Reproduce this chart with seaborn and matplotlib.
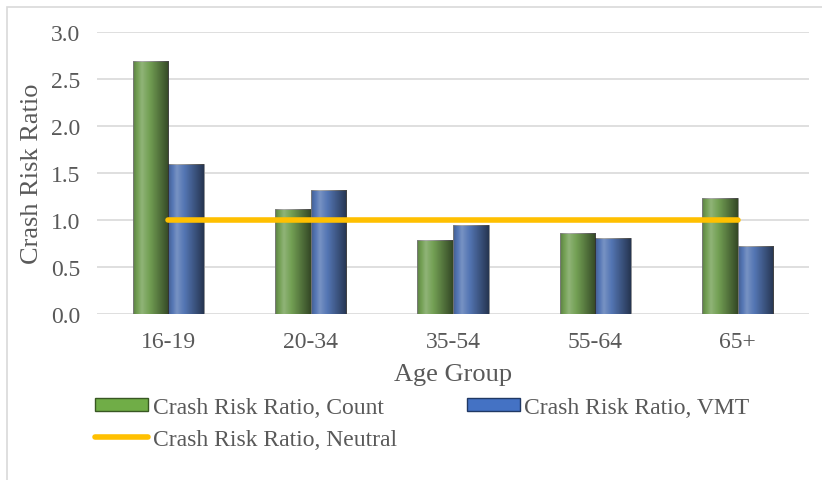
import matplotlib.pyplot as plt
import matplotlib.patches as mpatches
from matplotlib.lines import Line2D
import seaborn as sns
import pandas as pd
import numpy as np

sns.set_theme(style="white")
plt.rcParams['font.family'] = ['Liberation Serif', 'DejaVu Serif']

# Data
age_groups = ['16-19', '20-34', '35-54', '55-64', '65+']
count_ratio = [2.69, 1.12, 0.79, 0.86, 1.23]
vmt_ratio = [1.60, 1.32, 0.95, 0.81, 0.72]
neutral_ratio = [1.0, 1.0, 1.0, 1.0, 1.0]

df = pd.DataFrame({
    'Age Group': age_groups * 2,
    'Ratio': count_ratio + vmt_ratio,
    'Series': ['Crash Risk Ratio, Count'] * 5 + ['Crash Risk Ratio, VMT'] * 5,
})

GREEN = '#70AD47'
BLUE = '#4472C4'
YELLOW = '#FFC000'
TEXT = '#595959'

W, H = 822, 481
fig = plt.figure(figsize=(W / 100, H / 100), dpi=100)
ax = fig.add_axes([97 / W, 166 / H, (809 - 97) / W, (315 - 33) / H])

sns.barplot(data=df, x='Age Group', y='Ratio', hue='Series',
            palette=[GREEN, BLUE], width=0.5, gap=0, ax=ax,
            edgecolor='#8c8c8c', linewidth=0.6, legend=False)

# fake bevel shading on each bar
shade = np.concatenate([np.linspace(-0.2, 0.2, 16), np.linspace(0.2, -0.55, 48)])
grad = np.zeros((1, 64, 4))
grad[0, :, 0] = grad[0, :, 1] = grad[0, :, 2] = (shade > 0).astype(float)
grad[0, :, 3] = np.abs(shade)
for p in list(ax.patches):
    x0, y0 = p.get_x(), p.get_y()
    w, h = p.get_width(), p.get_height()
    im = ax.imshow(grad, extent=[x0, x0 + w, y0, y0 + h], aspect='auto',
                   interpolation='bilinear', zorder=p.get_zorder() + 0.1)
    im.set_clip_path(p)

ax.plot(range(len(age_groups)), neutral_ratio, color=YELLOW, lw=4,
        solid_capstyle='round', zorder=5)

ax.set_xlim(-0.5, 4.5)
ax.set_ylim(0, 3.0)
ax.set_yticks(np.arange(0, 3.01, 0.5))
ax.set_yticklabels([f'{v:.1f}' for v in np.arange(0, 3.01, 0.5)])
ax.yaxis.grid(True, color='#D9D9D9', lw=1.2)
ax.set_axisbelow(True)
for s in ax.spines.values():
    s.set_visible(False)
ax.tick_params(axis='both', length=0, labelsize=17, colors=TEXT)
ax.tick_params(axis='x', pad=12)
ax.tick_params(axis='y', pad=12)
ax.set_xlabel('Age Group', fontsize=19, color=TEXT, labelpad=8)
ax.set_ylabel('Crash Risk Ratio', fontsize=19, color=TEXT, labelpad=6)

handles = [
    mpatches.Patch(facecolor=GREEN, edgecolor='#385723', label='Crash Risk Ratio, Count'),
    Line2D([0], [0], color=YELLOW, lw=4, solid_capstyle='round', label='Crash Risk Ratio, Neutral'),
    mpatches.Patch(facecolor=BLUE, edgecolor='#203864', label='Crash Risk Ratio, VMT'),
]
leg = fig.legend(handles=handles, ncol=2, loc='upper left',
                 bbox_to_anchor=(95 / W, 1 - 398 / H), frameon=False,
                 fontsize=17, handlelength=2.25, handleheight=0.5,
                 handletextpad=0.2, columnspacing=2.95, labelspacing=0.45,
                 borderaxespad=0, borderpad=0)
for t in leg.get_texts():
    t.set_color(TEXT)

# outer chart border (only left and top visible)
fig.add_artist(mpatches.Rectangle((6.5 / W, -0.1), 1.2, 1.1 - 7.5 / H,
                                  transform=fig.transFigure, fill=False,
                                  edgecolor='#D9D9D9', lw=1.2))

fig.savefig('out.png', dpi=100)
